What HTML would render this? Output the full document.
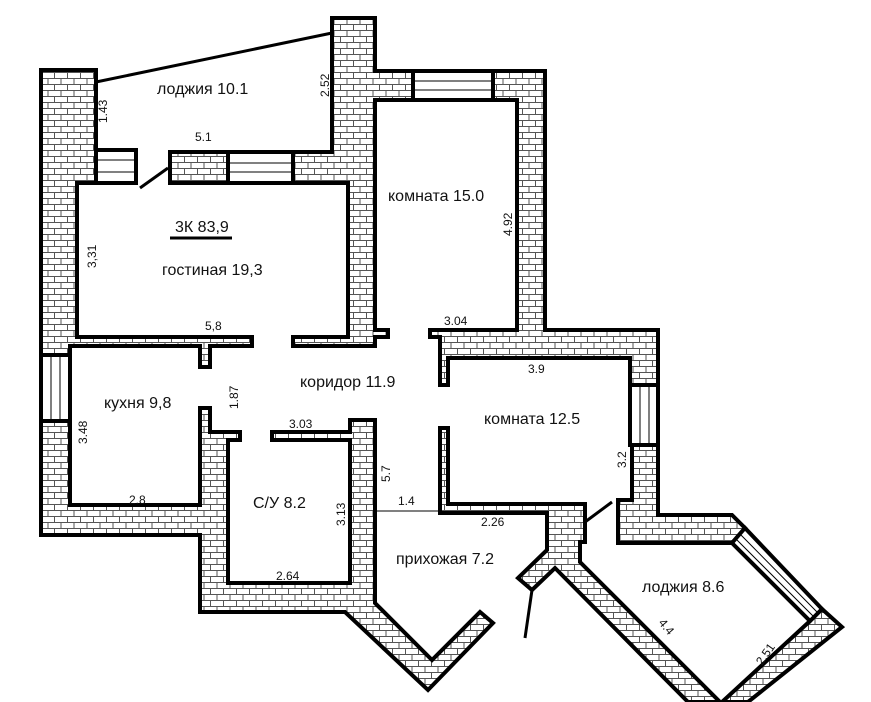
<!DOCTYPE html>
<html><head><meta charset="utf-8"><style>
html,body{margin:0;padding:0;background:#fff;}
svg{display:block;}
text{font-family:"Liberation Sans",Arial,sans-serif;fill:#111;}
.l{font-size:16px;}
.d{font-size:12px;}
</style></head><body>
<svg width="871" height="702" viewBox="0 0 871 702" xmlns="http://www.w3.org/2000/svg">
<defs>
<pattern id="b" width="13" height="12" patternUnits="userSpaceOnUse">
<rect width="13" height="12" fill="#fff"/>
<path d="M0 0.5H13M0 6.5H13M2.5 0V6M9 6V12" stroke="#555" stroke-width="1" fill="none"/>
</pattern>
</defs>
<g fill="url(#b)" stroke="#000" stroke-width="4" stroke-linejoin="miter">
<polygon points="41,70 96,70 96,183 77,183 77,337 252,337 252,346 210,346 210,367 200,367 200,346 70,346 70,355 41,355"/>
<polygon points="41,421 70,421 70,505 200,505 200,408 210,408 210,432 240,432 240,440 228,440 228,583 350,583 350,440 272,440 272,432 350,432 350,420 375,420 375,603 432,660 480,612 493,623 428,690 345,612 200,612 200,535 41,535"/>
<polygon points="332,18 375,18 375,71 413,71 413,100 375,100 375,330 388,330 388,337 375,337 375,346 293,346 293,337 348,337 348,183 293,183 293,152 332,152"/>
<polygon points="170,152 228,152 228,183 170,183"/>
<polygon points="493,71 545,71 545,330 658,330 658,385 630,385 630,358 448,358 448,385 440,385 440,337 430,337 430,330 517,330 517,100 493,100"/>
<polygon points="632,445 658,445 658,515 732,515 745,528 732,543 618,543 618,500 632,500"/>
<polygon points="810,621 822,609 842,627 748,702 722,702"/>
<polygon points="440,428 448,428 448,504 585,504 585,542 580,542 580,562 720,702 688,702 555,568 532,590 518,578 547,550 547,513 440,513"/>
</g>
<g fill="#fff" stroke="#000" stroke-width="4">
<rect x="96" y="150" width="40" height="33"/>
<rect x="228" y="152" width="65" height="31"/>
<rect x="413" y="71" width="80" height="29"/>
<rect x="41" y="355" width="29" height="66"/>
<rect x="630" y="385" width="28" height="60"/>
<polygon points="732,543 745,528 822,609 810,621"/>
</g>
<g stroke="#000" stroke-width="1" fill="none">
<path d="M96 160H136M96 172H136M228 163H293M228 172H293M413 81H493M413 90H493M51 355V421M60 355V421M640 385V445M649 385V445M736 539L814 617M740 534L818 613"/>
<path d="M375 511H440"/>
</g>
<g stroke="#000" stroke-width="3" fill="none">
<path d="M96 82L332 33"/>
<path d="M140 188L168 168"/>
<path d="M585 522L612 502"/>
<path d="M532 590L525 638"/>
<path d="M170 238H232"/>
</g>
<text class="l" x="157" y="94">лоджия 10.1</text>
<text class="l" x="175" y="232">3К 83,9</text>
<text class="l" x="162" y="275">гостиная 19,3</text>
<text class="l" x="388" y="201">комната 15.0</text>
<text class="l" x="300" y="387">коридор 11.9</text>
<text class="l" x="104" y="408">кухня 9,8</text>
<text class="l" x="484" y="424">комната 12.5</text>
<text class="l" x="253" y="508">С/У 8.2</text>
<text class="l" x="396" y="564">прихожая 7.2</text>
<text class="l" x="642" y="592">лоджия 8.6</text>
<text class="d" x="195" y="141">5.1</text>
<text class="d" x="205" y="330">5,8</text>
<text class="d" x="444" y="325">3.04</text>
<text class="d" x="528" y="373">3.9</text>
<text class="d" x="289" y="428">3.03</text>
<text class="d" x="129" y="504">2.8</text>
<text class="d" x="276" y="580">2.64</text>
<text class="d" x="398" y="505">1.4</text>
<text class="d" x="481" y="526">2.26</text>
<text class="d" transform="translate(107,123) rotate(-90)">1.43</text>
<text class="d" transform="translate(329,97) rotate(-90)">2.52</text>
<text class="d" transform="translate(96,268) rotate(-90)">3,31</text>
<text class="d" transform="translate(512,236) rotate(-90)">4.92</text>
<text class="d" transform="translate(238,409) rotate(-90)">1.87</text>
<text class="d" transform="translate(87,444) rotate(-90)">3.48</text>
<text class="d" transform="translate(390,482) rotate(-90)">5.7</text>
<text class="d" transform="translate(345,526) rotate(-90)">3.13</text>
<text class="d" transform="translate(626,468) rotate(-90)">3.2</text>
<text class="d" transform="translate(658,623) rotate(50)">4.4</text>
<text class="d" transform="translate(762,666) rotate(-55)">2.51</text>
</svg>
</body></html>
